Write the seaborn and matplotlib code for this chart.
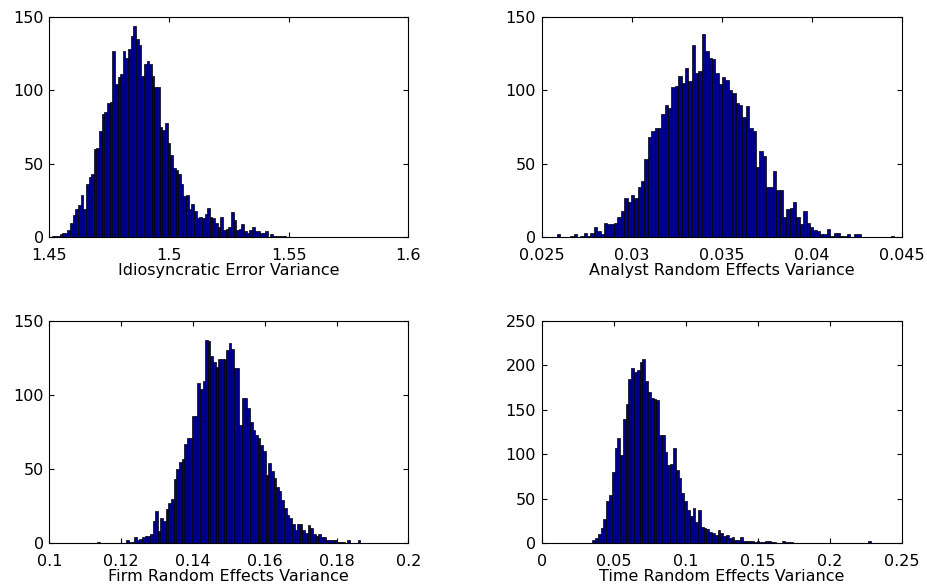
import numpy as np
import pandas as pd
import matplotlib
matplotlib.use("Agg")
import matplotlib.pyplot as plt
import seaborn as sns

# bin counts (left to right)
idio_counts = [1, 1, 1, 2, 3, 3, 5, 10, 15, 19,
               22, 29, 19, 36, 41, 43, 60, 61, 72, 84,
               85, 91, 92, 127, 104, 109, 111, 127, 122, 128,
               137, 144, 135, 131, 110, 118, 120, 118, 110, 102,
               102, 75, 73, 78, 64, 56, 47, 46, 43, 36,
               28, 29, 19, 23, 18, 13, 14, 13, 16, 20,
               14, 13, 10, 7, 14, 5, 6, 7, 17, 12,
               5, 6, 9, 4, 3, 5, 7, 4, 4, 3,
               3, 4, 0, 2, 1, 1, 1, 1, 1]
idio_range = (1.4510, 1.5490)

analyst_counts = [2, 0, 0, 0, 1, 2, 0, 1, 3, 1,
                  3, 7, 4, 2, 10, 9, 9, 10, 14, 18,
                  27, 24, 29, 27, 34, 38, 53, 68, 72, 74,
                  74, 84, 90, 88, 102, 103, 110, 105, 115, 106,
                  131, 112, 113, 138, 127, 122, 121, 112, 104, 109,
                  107, 100, 98, 91, 90, 82, 89, 74, 72, 48,
                  59, 55, 34, 34, 45, 32, 32, 14, 19, 20,
                  24, 14, 9, 18, 10, 7, 5, 4, 2, 2,
                  6, 1, 3, 3, 1, 1, 2, 0, 2, 2,
                  0, 0, 0, 0, 0, 0, 0, 0, 0, 1]
analyst_range = (0.02583, 0.04459)

firm_counts = [1, 0, 0, 0, 0, 0, 0, 0, 0, 0,
               0, 2, 1, 1, 4, 2, 3, 4, 5, 5,
               6, 15, 22, 8, 17, 15, 23, 27, 30, 43,
               50, 55, 57, 67, 71, 71, 86, 86, 108, 104,
               109, 137, 136, 126, 122, 119, 124, 124, 124, 130,
               135, 131, 118, 118, 80, 98, 98, 91, 82, 76,
               73, 71, 66, 62, 46, 54, 49, 44, 38, 35,
               29, 24, 19, 17, 13, 9, 13, 13, 9, 7,
               12, 10, 6, 5, 6, 4, 4, 2, 2, 2,
               2, 1, 1, 1, 0, 2, 0, 0, 0, 2]
firm_range = (0.1134, 0.1866)

time_counts = [4, 6, 10, 17, 27, 47, 54, 80, 107, 118,
               99, 139, 156, 184, 197, 192, 195, 204, 207, 182,
               170, 163, 162, 161, 122, 122, 103, 88, 89, 107,
               82, 73, 56, 47, 37, 31, 40, 24, 37, 18,
               17, 16, 13, 12, 9, 15, 12, 8, 9, 6,
               7, 4, 4, 7, 3, 3, 2, 3, 1, 2,
               1, 1, 2, 2, 1, 1, 0, 0, 2, 1,
               1, 1, 0, 0, 0, 0, 0, 0, 0, 0,
               0, 0, 0, 0, 0, 0, 0, 0, 0, 0,
               0, 0, 0, 0, 0, 0, 0, 0, 0, 2]
time_range = (0.0351, 0.2286)

xlabels = ["Idiosyncratic Error Variance", "Analyst Random Effects Variance",
           "Firm Random Effects Variance", "Time Random Effects Variance"]
xtick_vals = [[1.45, 1.5, 1.55, 1.6],
              [0.025, 0.03, 0.035, 0.04, 0.045],
              [0.1, 0.12, 0.14, 0.16, 0.18, 0.2],
              [0, 0.05, 0.1, 0.15, 0.2, 0.25]]
xtick_text = [["1.45", "1.5", "1.55", "1.6"],
              ["0.025", "0.03", "0.035", "0.04", "0.045"],
              ["0.1", "0.12", "0.14", "0.16", "0.18", "0.2"],
              ["0", "0.05", "0.1", "0.15", "0.2", "0.25"]]
ytick_vals = [[0, 50, 100, 150], [0, 50, 100, 150],
              [0, 50, 100, 150], [0, 50, 100, 150, 200, 250]]

sns.set_theme(style="white")
plt.rcParams['font.family'] = ['DejaVu Sans']
plt.rcParams.update({
    'xtick.direction': 'in', 'ytick.direction': 'in',
    'xtick.top': True, 'ytick.right': True,
    'xtick.bottom': True, 'ytick.left': True,
    'xtick.major.size': 3.5, 'ytick.major.size': 3.5,
    'xtick.major.width': 0.8, 'ytick.major.width': 0.8,
    'xtick.major.pad': 7.5, 'ytick.major.pad': 4,
    'xtick.labelsize': 11.5, 'ytick.labelsize': 11.5,
    'axes.labelsize': 11.5,
    'axes.labelcolor': 'black', 'text.color': 'black',
    'axes.edgecolor': 'black', 'axes.linewidth': 0.8,
    'xtick.color': 'black', 'ytick.color': 'black',
})

fig = plt.figure(figsize=(9.28, 5.86), dpi=100)
positions = [[0.0531, 0.595, 0.387, 0.3765],
             [0.5837, 0.595, 0.388, 0.3765],
             [0.0531, 0.0729, 0.387, 0.380],
             [0.5837, 0.0729, 0.388, 0.380]]

panels = [(idio_counts, idio_range), (analyst_counts, analyst_range),
          (firm_counts, firm_range), (time_counts, time_range)]

for i, (counts, rng) in enumerate(panels):
    ax = fig.add_axes(positions[i])
    # one row per bin: bin centre and its count (used as weight)
    edges = np.linspace(rng[0], rng[1], len(counts) + 1)
    df = pd.DataFrame({'center': (edges[:-1] + edges[1:]) / 2,
                       'count': counts})
    sns.histplot(data=df, x='center', weights='count', bins=len(counts),
                 binrange=rng, ax=ax, color='#00008F', edgecolor='black',
                 linewidth=0.5, alpha=1)
    ax.set_xlim(xtick_vals[i][0], xtick_vals[i][-1])
    ax.set_ylim(ytick_vals[i][0], ytick_vals[i][-1])
    ax.set_xticks(xtick_vals[i])
    ax.set_xticklabels(xtick_text[i])
    ax.set_yticks(ytick_vals[i])
    ax.set_xlabel(xlabels[i], labelpad=0)
    ax.set_ylabel('')
    for s in ax.spines.values():
        s.set_visible(True)
        s.set_color('black')

fig.savefig('out.png', dpi=100)
plt.close('all')
